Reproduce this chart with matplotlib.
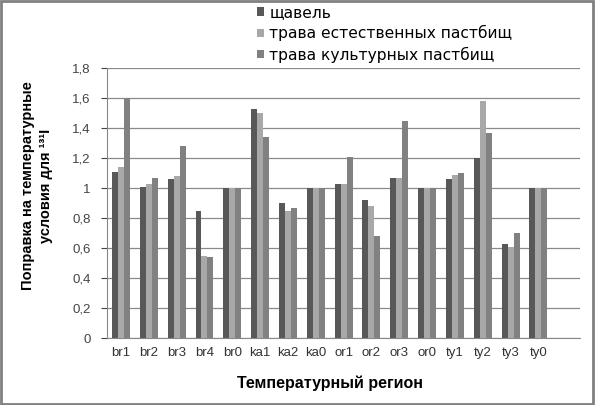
import matplotlib
matplotlib.use('Agg')
import matplotlib.pyplot as plt
import numpy as np

regions = ['br1', 'br2', 'br3', 'br4', 'br0', 'ka1', 'ka2', 'ka0',
           'or1', 'or2', 'or3', 'or0', 'ty1', 'ty2', 'ty3', 'ty0']
sorrel = [1.11, 1.01, 1.06, 0.85, 1.0, 1.53, 0.90, 1.0,
          1.03, 0.92, 1.07, 1.0, 1.06, 1.20, 0.63, 1.0]
natural = [1.14, 1.03, 1.08, 0.55, 1.0, 1.50, 0.85, 1.0,
           1.03, 0.88, 1.07, 1.0, 1.09, 1.58, 0.61, 1.0]
cultured = [1.60, 1.07, 1.28, 0.54, 1.0, 1.34, 0.87, 1.0,
            1.21, 0.68, 1.45, 1.0, 1.10, 1.37, 0.70, 1.0]
series_names = ['щавель', 'трава естественных пастбищ', 'трава культурных пастбищ']
yticks = [0, 0.2, 0.4, 0.6, 0.8, 1.0, 1.2, 1.4, 1.6, 1.8]
ytick_labels = ['0', '0,2', '0,4', '0,6', '0,8', '1', '1,2', '1,4', '1,6', '1,8']

plt.rcParams['font.family'] = ['Liberation Sans', 'DejaVu Sans']

fig = plt.figure(figsize=(5.95, 4.05), dpi=100)
ax = fig.add_axes([0.18, 0.165, 0.795, 0.667])

colors = ['#585858', '#a8a8a8', '#818181']
x = np.arange(len(regions))
w = 0.215
for i, (vals, c) in enumerate(zip([sorrel, natural, cultured], colors)):
    ax.bar(x + (i - 1) * w, vals, w, color=c, label=series_names[i], zorder=3)

ax.set_xlim(-0.5, len(regions) + 0.5)
ax.set_ylim(0, 1.8)
ax.set_yticks(yticks)
ax.set_yticklabels(ytick_labels)
ax.set_xticks(x)
ax.set_xticklabels(regions)
ax.tick_params(axis='x', length=0, labelsize=9.5, colors='#333333', pad=6)
ax.tick_params(axis='y', length=4, direction='out', labelsize=9.5, colors='#444444', pad=8)
ax.yaxis.grid(True, color='#8a8a8a', linewidth=0.9, zorder=0)
for s in ['top', 'right']:
    ax.spines[s].set_visible(False)
ax.spines['left'].set_color('#888888')
ax.spines['bottom'].set_color('#888888')

# axis titles placed like the original (centred on the chart area, not the axes)
fig.text(0.555, 0.054, 'Температурный регион', fontsize=11.5, fontweight='bold',
         ha='center', va='center')
fig.text(0.062, 0.541, 'Поправка на температурные\nусловия для ¹³¹I', fontsize=10.5,
         fontweight='bold', rotation=90, ha='center', va='center', multialignment='center',
         linespacing=1.4)

fig.legend(loc='upper left', bbox_to_anchor=(257 / 595, 1 - 5 / 405), frameon=False,
           prop={'family': 'DejaVu Sans', 'size': 11.2}, handlelength=0.45,
           handleheight=0.45, handletextpad=0.35, labelspacing=0.33,
           borderpad=0, borderaxespad=0)

fig.patches.append(plt.Rectangle((0.002, 0.003), 0.995, 0.994, transform=fig.transFigure,
                                 fill=False, edgecolor='#808080', linewidth=2))

fig.savefig('out.png', dpi=100)
